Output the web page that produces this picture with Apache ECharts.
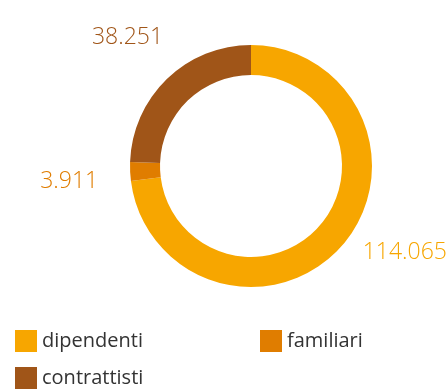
<!DOCTYPE html>
<html>
<head>
<meta charset="utf-8">
<script src="https://cdn.jsdelivr.net/npm/echarts@6/dist/echarts.min.js"></script>
<style>
  html, body { margin: 0; padding: 0; background: #fff; }
  #chart { width: 448px; height: 389px; }
</style>
</head>
<body>
<div id="chart"></div>
<script>
// Workforce breakdown
const categories = ['dipendenti', 'familiari', 'contrattisti'];
const values = [114065, 3911, 38251];
const colors = ['#F7A600', '#E07D00', '#A05518'];

// Italian thousands separator
function fmt(v) {
  return String(v).replace(/\B(?=(\d{3})+(?!\d))/g, '.');
}

// per-slice label placement tweaks
const labelTweaks = [
  { length: 4, length2: 22 },
  { length: 6, length2: 24 },
  { length: 40, length2: 4 }
];
const labelShift = [
  [-9, 4],
  [3, 10],
  [33, -13]
];

// legend slots: two columns, two rows
const legendSlots = [
  { left: 15, top: 330 },
  { left: 260, top: 330 },
  { left: 15, top: 367 }
];

const legendBase = {
  orient: 'horizontal',
  padding: 0,
  itemWidth: 22,
  itemHeight: 22,
  itemGap: 7,
  icon: 'rect',
  textStyle: { fontFamily: 'Open Sans', fontSize: 20, color: '#333' }
};

const chart = echarts.init(document.getElementById('chart'));
chart.setOption({
  animation: false,
  color: colors,
  legend: categories.map((c, i) => Object.assign({}, legendBase, legendSlots[i], { data: [c] })),
  series: [{
    type: 'pie',
    center: [251, 166],
    radius: [91, 121],
    startAngle: 90,
    clockwise: true,
    avoidLabelOverlap: false,
    label: {
      show: true,
      position: 'outside',
      fontFamily: 'Open Sans',
      fontWeight: 300,
      fontSize: 23,
      formatter: p => fmt(p.value)
    },
    labelLine: { show: false },
    labelLayout: p => ({ dx: labelShift[p.dataIndex][0], dy: labelShift[p.dataIndex][1] }),
    data: categories.map((c, i) => ({
      name: c,
      value: values[i],
      label: { color: colors[i] },
      labelLine: labelTweaks[i]
    }))
  }]
});
</script>
</body>
</html>
